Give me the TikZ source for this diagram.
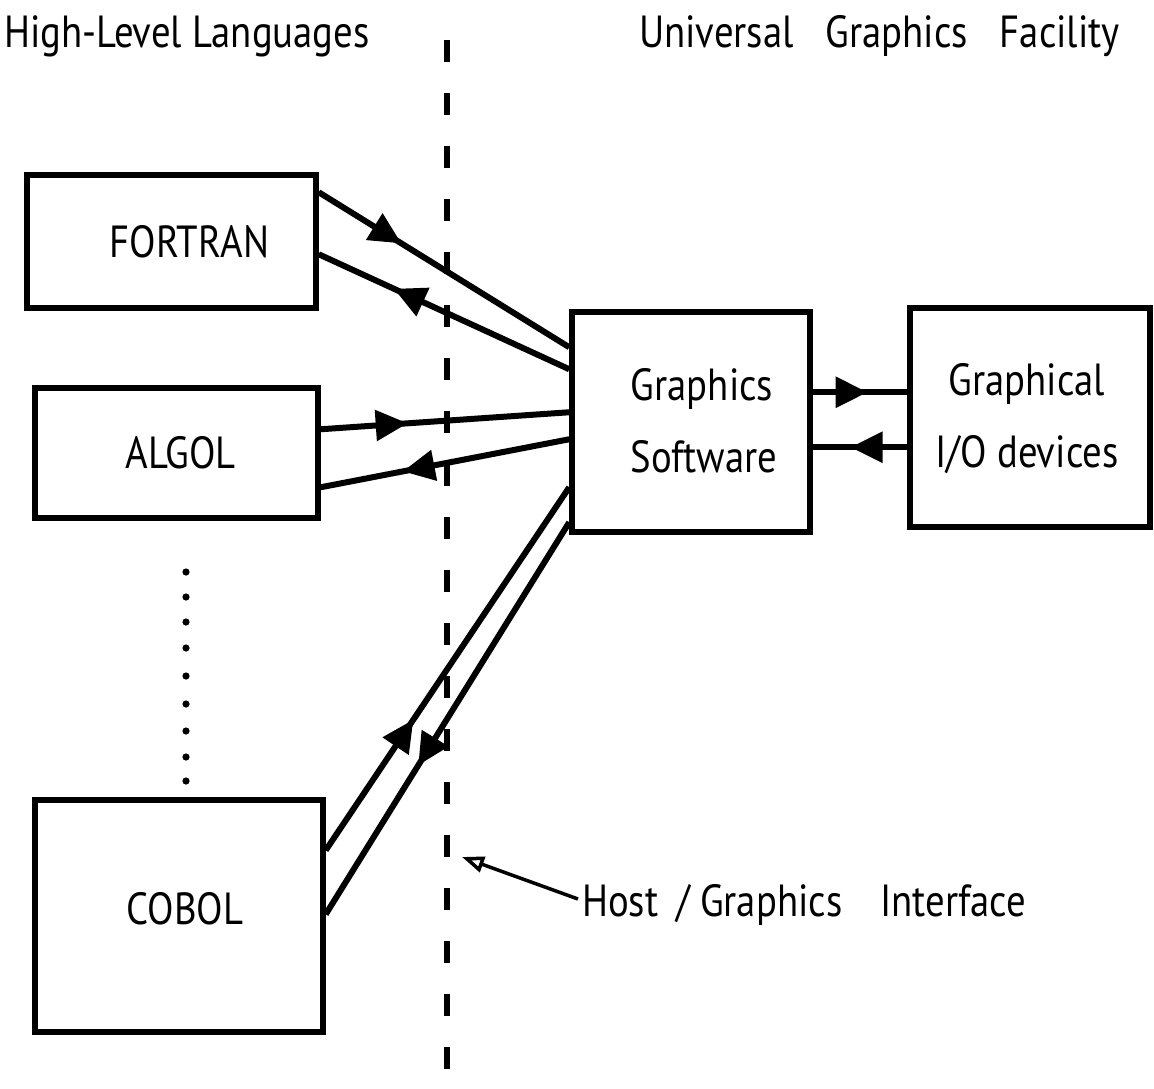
\documentclass[tikz,border=0pt]{standalone}
\usepackage{fontspec}
\setmainfont{PT Sans}[FakeStretch=0.86]
\usetikzlibrary{arrows.meta,decorations.markings,calc}
\begin{document}
\begin{tikzpicture}[x=1pt,y=-1pt,
  box/.style={draw,line width=5.5pt,inner sep=0pt,font=\fontsize{45}{72}\selectfont,align=center},
  conn/.style={line width=6pt},
  fwd/.style={postaction={decorate,decoration={markings,mark=at position #1 with {\arrow{Triangle[length=32pt,width=30pt]}}}}},
  bwd/.style={postaction={decorate,decoration={markings,mark=at position #1 with {\arrowreversed{Triangle[length=32pt,width=30pt]}}}}},
  lbl/.style={font=\fontsize{45}{50}\selectfont,inner sep=0pt}]
\useasboundingbox (0,0) rectangle (1154,1088);
% boxes
\node[box,minimum width=289pt,minimum height=133pt] (fortran) at (171.5,241.5) {\hspace*{36pt}FORTRAN};
\node[box,minimum width=283pt,minimum height=130pt] (algol) at (176.5,453) {\hspace*{8pt}\raisebox{-12pt}{ALGOL}};
\node[box,minimum width=288pt,minimum height=232pt] (cobol) at (179,916) {\hspace*{12pt}\raisebox{16pt}{COBOL}};
\node[box,minimum width=238pt,minimum height=220pt] (gs) at (691,422) {\hspace*{26pt}\begin{tabular}{@{}l@{}}Graphics\\Software\end{tabular}};
\node[box,minimum width=240pt,minimum height=219pt] (gio) at (1030,417.5) {\hspace*{-6pt}\begin{tabular}{@{}c@{}}Graphical\\I/O devices\end{tabular}};
% titles
\node[lbl,anchor=west] (t1) at (4,36) {High-Level Languages};
\node[lbl,anchor=east] (t2) at (1120,36) {Universal\hspace{32pt}Graphics\hspace{32pt}Facility};
% interface line
\coordinate (itop) at (447,40);
\coordinate (ibot) at (447,1088);
\draw[line width=6pt,dash pattern=on 22pt off 31pt] (itop) -- (ibot);
% dotted ellipsis
\foreach \i [count=\k] in {572,597,622,648,676,704,731,757,781}
  \fill (186,\i) circle (3.6pt) coordinate (d\k);
% connectors
\draw[conn,fwd=0.33] ($(fortran.north east)+(0,20)$) -- ($(gs.north west)+(0,38)$);
\draw[conn,bwd=0.30] ($(fortran.north east)+(0,82)$) -- ($(gs.north west)+(0,60)$);
\draw[conn,fwd=0.35] ($(algol.north east)+(0,44)$) -- ($(gs.north west)+(0,103)$);
\draw[conn,bwd=0.33] ($(algol.north east)+(0,102)$) -- ($(gs.north west)+(0,130)$);
\draw[conn,fwd=0.36] ($(cobol.north east)+(0,53)$) -- ($(gs.north west)+(0,178)$);
\draw[conn,bwd=0.38] ($(cobol.north east)+(0,117)$) -- ($(gs.north west)+(0,213)$);
\draw[conn,fwd=0.58] ($(gs.north east)+(0,83)$) -- ($(gio.north west)+(0,87)$);
\draw[conn,bwd=0.40] ($(gs.north east)+(0,138)$) -- ($(gio.north west)+(0,142)$);
% host/graphics interface label
\node[lbl,anchor=west] (hgi) at (582,905) {Host\hspace{18pt}/\hspace{10pt}Graphics\hspace{38pt}Interface};
\coordinate (hgitip) at (462,857);
\draw[line width=3.5pt,-{Triangle[open,length=22pt,width=16pt,line width=3.5pt]}] (hgi.west) ++(-4,-6) coordinate (hgistart) (hgistart) -- (hgitip);
\end{tikzpicture}
\end{document}
